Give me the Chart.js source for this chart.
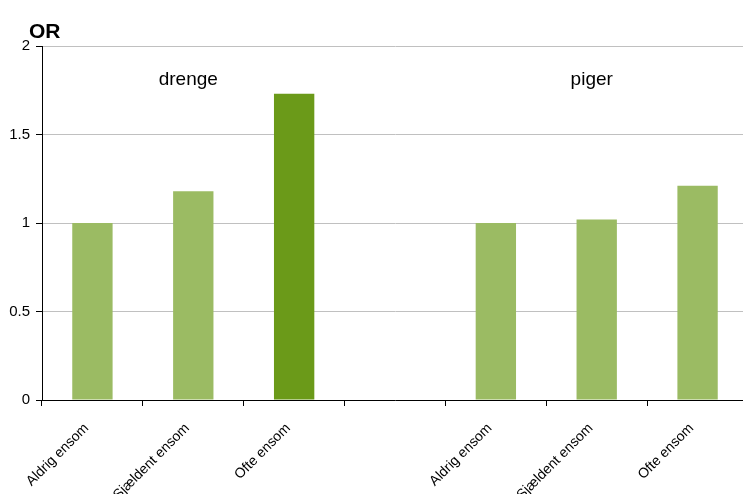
<!DOCTYPE html>
<html><head><meta charset="utf-8">
<script src="https://cdn.jsdelivr.net/npm/chart.js@4/dist/chart.umd.min.js"></script>
<style>html,body{margin:0;padding:0;background:#fff;overflow:hidden;}#wrap{width:748px;height:494px;position:relative;}</style>
</head><body><div id="wrap"><canvas id="c"></canvas></div>
<script>
const categories = ["Aldrig ensom","Sjældent ensom","Ofte ensom","","Aldrig ensom","Sjældent ensom","Ofte ensom"];
const orValues = [1.0, 1.18, 1.73, null, 1.0, 1.02, 1.21];
const yTicks = [0, 0.5, 1, 1.5, 2];
const groupLabels = [{text:"drenge", index:1, value:1.81},{text:"piger", index:5, value:1.81}];
const barColors = ["#9bbb63","#9bbb63","#6b9a19","#9bbb63","#9bbb63","#9bbb63","#9bbb63"];

const FONT = "'Liberation Sans', Arial, sans-serif";
const textPlugin = {
  id:'texts',
  afterDraw(chart){
    const ctx = chart.ctx, xs = chart.scales.x, ys = chart.scales.y;
    ctx.save();
    ctx.fillStyle = '#000';
    ctx.font = "bold 21px " + FONT;
    ctx.textAlign = 'left'; ctx.textBaseline = 'alphabetic';
    ctx.fillText("OR", 29, 38);
    ctx.font = "19px " + FONT;
    ctx.textAlign = 'center'; ctx.textBaseline = 'middle';
    groupLabels.forEach(g => {
      ctx.fillText(g.text, xs.getPixelForValue(g.index) - 5, ys.getPixelForValue(g.value));
    });
    ctx.restore();
  }
};

new Chart(document.getElementById('c'), {
  type:'bar',
  data:{labels:categories, datasets:[{data:orValues, backgroundColor:barColors, barPercentage:0.4, categoryPercentage:1.0}]},
  options:{
    responsive:true, maintainAspectRatio:false, animation:false,
    layout:{padding:{top:46,right:0,left:0,bottom:0}},
    plugins:{legend:{display:false}, tooltip:{enabled:false}},
    scales:{
      x:{
        offset:true,
        grid:{display:true, drawOnChartArea:false, offset:true, tickLength:6, tickColor:'#000'},
        border:{color:'#000'},
        ticks:{minRotation:45, maxRotation:45, autoSkip:false, color:'#000', font:{family:FONT, size:14}, padding:14, labelOffset:-6},
        afterFit(s){ s.height = 94; }
      },
      y:{
        min:0, max:2,
        afterBuildTicks(s){ s.ticks = yTicks.map(v=>({value:v})); },
        grid:{color:'#c0c0c0', tickLength:6, tickColor:'#000'},
        border:{color:'#000'},
        ticks:{color:'#000', font:{family:FONT, size:15}, padding:6, callback:(v)=>String(v)},
        afterFit(s){ s.width = 42; }
      }
    }
  },
  plugins:[textPlugin]
});
</script></body></html>
